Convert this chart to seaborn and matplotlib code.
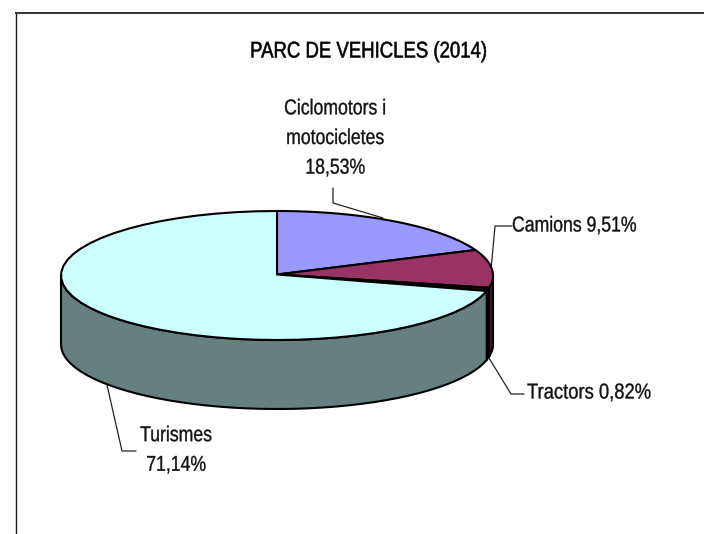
import numpy as np
import matplotlib
matplotlib.use("Agg")
import matplotlib.pyplot as plt
import matplotlib.patheffects as pe
from matplotlib.transforms import Affine2D
import seaborn as sns

sns.set_style("white")
plt.rcParams['font.family'] = ['Liberation Sans', 'DejaVu Sans']

title = "PARC DE VEHICLES (2014)"
categories = ["Ciclomotors i motocicletes", "Camions", "Tractors", "Turismes"]
values = [18.53, 9.51, 0.82, 71.14]
top_colors = ["#9999FF", "#993366", "#111111", "#CCFFFF"]
side_colors = ["#4D4D80", "#4D1A33", "#000000", "#667F7F"]
label_texts = ["Ciclomotors i\nmotocicletes\n18,53%", "Camions 9,51%", "Tractors 0,82%", "Turismes\n71,14%"]

W, H = 704, 534
fig = plt.figure(figsize=(W / 100, H / 100), dpi=100)
ax = fig.add_axes([0, 0, 1, 1])
ax.set_xlim(0, W)
ax.set_ylim(H, 0)
ax.axis("off")

cx, cy, rx, ry, depth = 277, 275.5, 216, 64.5, 69
bounds = np.concatenate([[0], np.cumsum(values)]) / np.sum(values) * 2 * np.pi


class Narrow(pe.AbstractPathEffect):
    """Squeeze the glyphs of a real text horizontally about a pixel column."""

    def __init__(self, x0, sx=0.82, weight=0.25):
        super().__init__()
        self.x0, self.sx, self.weight = x0, sx, weight

    def draw_path(self, renderer, gc, tpath, affine, rgbFace=None):
        squeeze = Affine2D().translate(-self.x0, 0).scale(self.sx, 1).translate(self.x0, 0)
        gc0 = renderer.new_gc()
        gc0.copy_properties(gc)
        gc0.set_linewidth(self.weight)
        gc0.set_foreground(rgbFace if rgbFace is not None else "black")
        renderer.draw_path(gc0, tpath, affine + squeeze, rgbFace)
        gc0.restore()


def label(x, y, s, ha, size, spacing=1.54, color="#111111", sx=0.82, weight=0.25):
    t = ax.text(x, y, s, ha=ha, va="center", fontsize=size, linespacing=spacing, color=color, zorder=5)
    t.set_path_effects([Narrow(x, sx, weight)])


def rim(a0, a1, n=48):
    t = np.linspace(a0, a1, max(n, 2))
    return cx + rx * np.sin(t), cy - ry * np.cos(t)


# sides: only the front half (angles between 90 and 270 degrees) is visible
for i in range(len(values)):
    a0 = max(bounds[i], np.pi / 2)
    a1 = min(bounds[i + 1], 3 * np.pi / 2)
    if a1 <= a0:
        continue
    x, y = rim(a0, a1)
    ax.fill(np.r_[x, x[::-1]], np.r_[y, y[::-1] + depth], fc=side_colors[i],
            ec="black", lw=1.5, joinstyle="round", zorder=2)

# top faces
for i in range(len(values)):
    x, y = rim(bounds[i], bounds[i + 1])
    ax.fill(np.r_[cx, x], np.r_[cy - 1, y], fc=top_colors[i], ec="black", lw=1.5,
            joinstyle="round", zorder=3)

# frame: open on the right and at the bottom, cropped by the image
ax.plot([15.7, 15.7], [H, 12.7], color="#1a1a1a", lw=1.0, zorder=1, solid_capstyle="butt")
ax.plot([15.2, W], [12.9, 12.9], color="#333333", lw=1.4, zorder=1, solid_capstyle="butt")

label(368.5, 51, title, "center", 16.3, spacing=1.2, color="black", weight=0.4)
label(335, 138.5, label_texts[0], "center", 15.5)
label(512, 226, label_texts[1], "left", 15.5)
label(527, 393, label_texts[2], "left", 15.5, sx=0.855)
label(176, 450.5, label_texts[3], "center", 15.5)

leaders = [
    ([333, 333, 383], [188, 203, 218]),
    ([512, 495, 491], [226, 226, 270]),
    ([489, 511, 524], [358, 394, 394]),
    ([107, 122, 136], [385, 451, 451]),
]
for lx, ly in leaders:
    ax.plot(lx, ly, color="#222222", lw=0.9, zorder=2.5)

fig.savefig("out.png", dpi=100, facecolor="white")
